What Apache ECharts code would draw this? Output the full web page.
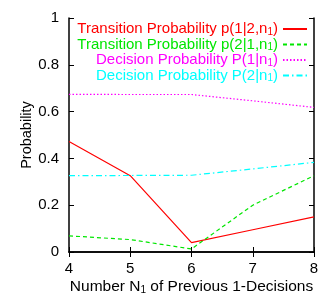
<!DOCTYPE html>
<html><head><meta charset="utf-8">
<script src="https://cdn.jsdelivr.net/npm/echarts@6/dist/echarts.min.js"></script>
<style>html,body{margin:0;padding:0;background:#fff}#c{width:322px;height:299px}</style>
</head><body><div id="c"></div>
<script>
const xValues = [4, 5, 6, 7, 8];
const pTrans12 = [0.472, 0.326, 0.040, 0.095, 0.150];
const pTrans21 = [0.069, 0.053, 0.013, 0.200, 0.326];
const pDec1 = [0.674, 0.673, 0.673, 0.646, 0.618];
const pDec2 = [0.326, 0.327, 0.328, 0.355, 0.383];
const seriesNames = ['T12', 'T21', 'D1', 'D2'];
const yTicks = [0, 0.2, 0.4, 0.6, 0.8, 1];

const FONT = 'Liberation Sans';
const colors = ['#ff0000', '#00e600', '#ff00ff', '#00ffff'];
const labels = {
  T12: ['Transition Probability p(1|2,n', ')'],
  T21: ['Transition Probability p(2|1,n', ')'],
  D1: ['Decision Probability P(1|n', ')'],
  D2: ['Decision Probability P(2|n', ')']
};
const rich = {};
seriesNames.forEach((n, i) => {
  rich['a' + i] = { color: colors[i], fontSize: 15, fontFamily: FONT, lineHeight: 14 };
  rich['s' + i] = { color: colors[i], fontSize: 10, fontFamily: FONT, lineHeight: 8, padding: [6, 0, 0, 0] };
});

function mk(arr) { return xValues.map((x, i) => [x, arr[i]]); }
const types = ['solid', [4, 3], [1.5, 2], [6, 3, 1.5, 3]];
const datas = [pTrans12, pTrans21, pDec1, pDec2];

const chart = echarts.init(document.getElementById('c'));
const axisCommon = {
  axisLine: { show: true, lineStyle: { color: '#000', width: 1.5 } },
  axisTick: { show: true, inside: true, length: 5, lineStyle: { color: '#000' } },
  splitLine: { show: false }
};
chart.setOption({
  animation: false,
  grid: { left: 69, right: 8, top: 18, bottom: 47, outerBoundsMode: 'none', containLabel: false },
  legend: {
    orient: 'vertical', right: 14, top: 21, align: 'right',
    itemWidth: 24, itemHeight: 8, itemGap: -0.5, padding: 0,
    data: seriesNames,
    itemStyle: { opacity: 0 },
    formatter: function (n) {
      const i = seriesNames.indexOf(n);
      return '{a' + i + '|' + labels[n][0] + '}{s' + i + '|1}{a' + i + '|' + labels[n][1] + '}';
    },
    textStyle: { rich: rich, fontSize: 15, fontFamily: FONT }
  },
  xAxis: [{
    type: 'value', min: 4, max: 8, interval: 1, ...axisCommon,
    axisLabel: { color: '#000', fontSize: 15, fontFamily: FONT, margin: 9 },
    name: '{n|Number N}{s|1}{n| of Previous 1-Decisions}', nameLocation: 'middle', nameGap: 27,
    nameMoveOverlap: false,
    nameTextStyle: { rich: { n: { fontSize: 15.5, fontFamily: FONT, color: '#000', lineHeight: 16 }, s: { fontSize: 10, fontFamily: FONT, color: '#000', lineHeight: 9, padding: [7, 0, 0, 0] } } }
  }, {
    type: 'value', min: 4, max: 8, interval: 1, position: 'top', ...axisCommon,
    axisLabel: { show: false }
  }],
  yAxis: [{
    type: 'value', min: 0, max: 1, interval: 0.2, ...axisCommon,
    axisLabel: { color: '#000', fontSize: 15, fontFamily: FONT, margin: 10, formatter: v => String(+v.toFixed(1)) },
    name: 'Probability', nameLocation: 'middle', nameGap: 35, nameMoveOverlap: false,
    nameTextStyle: { color: '#000', fontSize: 14.5, fontFamily: FONT }
  }, {
    type: 'value', min: 0, max: 1, interval: 0.2, position: 'right', ...axisCommon,
    axisLabel: { show: false }
  }],
  series: seriesNames.map((n, i) => ({
    name: n, type: 'line', data: mk(datas[i]), symbol: 'none', showSymbol: false,
    lineStyle: { color: colors[i], width: 1.2, type: types[i] },
    itemStyle: { color: colors[i] }
  }))
});
</script></body></html>
